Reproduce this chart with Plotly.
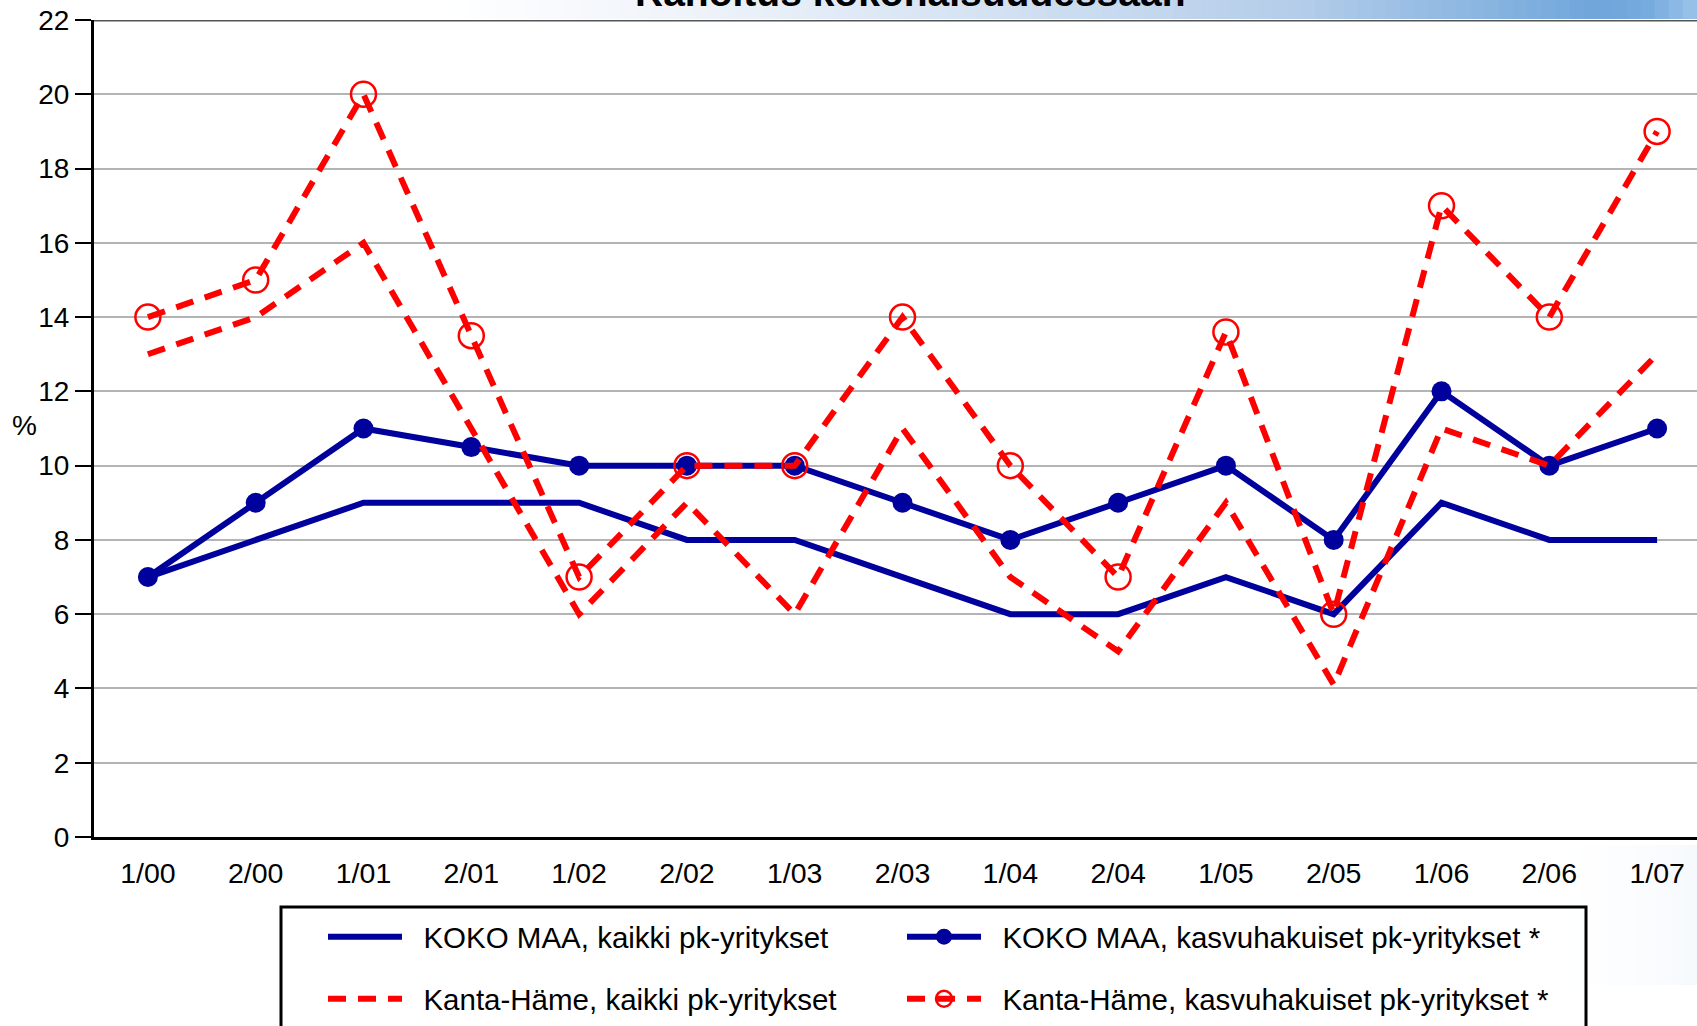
import plotly.graph_objects as go

# ---- data ----
periods = ["1/00", "2/00", "1/01", "2/01", "1/02", "2/02", "1/03", "2/03",
           "1/04", "2/04", "1/05", "2/05", "1/06", "2/06", "1/07"]
koko_kaikki = [7, 8, 9, 9, 9, 8, 8, 7, 6, 6, 7, 6, 9, 8, 8]
koko_kasvu = [7, 9, 11, 10.5, 10, 10, 10, 9, 8, 9, 10, 8, 12, 10, 11]
kh_kaikki = [13, 14, 16, 11, 6, 9, 6, 11, 7, 5, 9, 4.1, 11, 10, 13]
kh_kasvu = [14, 15, 20, 13.5, 7, 10, 10, 14, 10, 7, 13.6, 6, 17, 14, 19]
yticks = list(range(0, 23, 2))
names = ["KOKO MAA, kaikki pk-yritykset",
         "KOKO MAA, kasvuhakuiset pk-yritykset *",
         "Kanta-Häme, kaikki pk-yritykset",
         "Kanta-Häme, kasvuhakuiset pk-yritykset *"]
title_text = "Rahoitus kokonaisuudessaan"
y_label = "%"

# ---- layout geometry ----
W, H = 1697, 1026
ML, MR, MT, MB = 94, 0, 20, 189
PW, PH = W - ML - MR, H - MT - MB
FONT = "Liberation Sans, Arial, sans-serif"
BLUE = "#00009C"
RED = "#FF0000"
PAD = "\u00a0\u00a0"
LEG_FONT = 29.5


def px(x):
    return (x - ML) / PW


def py(y):
    return 1 - (y - MT) / PH


fig = go.Figure()
fig.add_trace(go.Scatter(x=periods, y=koko_kaikki, name=PAD + names[0], mode="lines",
                         line=dict(color=BLUE, width=6), legend="legend", showlegend=True))
fig.add_trace(go.Scatter(x=periods, y=koko_kasvu, name=PAD + names[1], mode="lines+markers",
                         line=dict(color=BLUE, width=6),
                         marker=dict(symbol="circle", size=20, color=BLUE),
                         legend="legend2", showlegend=True))
fig.add_trace(go.Scatter(x=periods, y=kh_kaikki, name=PAD + names[2], mode="lines",
                         line=dict(color=RED, width=6, dash="18px,12px"),
                         legend="legend3", showlegend=True))
fig.add_trace(go.Scatter(x=periods, y=kh_kasvu, name=PAD + names[3], mode="lines+markers",
                         line=dict(color=RED, width=6, dash="18px,12px"),
                         marker=dict(symbol="circle-open", size=25, color=RED,
                                     line=dict(width=2.5)),
                         legend="legend4", showlegend=True))

shapes = []
# gradient band at the top
stops = [(0, (255, 255, 255)), (450, (255, 255, 255)), (700, (238, 243, 250)),
         (1000, (211, 225, 242)), (1300, (180, 205, 233)), (1500, (134, 179, 224)),
         (1600, (111, 165, 219)), (1650, (118, 171, 222)), (1697, (156, 195, 234))]


def interp(x):
    for (x0, c0), (x1, c1) in zip(stops[:-1], stops[1:]):
        if x0 <= x <= x1:
            t = (x - x0) / (x1 - x0) if x1 > x0 else 0
            return tuple(int(round(a + (b - a) * t)) for a, b in zip(c0, c1))
    return stops[-1][1]


N = 120
for i in range(N):
    x0 = W * i / N
    x1 = W * (i + 1) / N + 1
    c = interp((x0 + x1) / 2)
    shapes.append(dict(type="rect", xref="paper", yref="paper",
                       x0=px(x0), x1=px(x1), y0=py(19), y1=py(-2),
                       fillcolor="rgb(%d,%d,%d)" % c, line=dict(width=0), layer="below"))
# soft haze lower right
for i in range(30):
    x0 = 1547 + i * 5
    a = 0.10 * (i / 29) ** 1.5
    shapes.append(dict(type="rect", xref="paper", yref="paper",
                       x0=px(x0), x1=px(x0 + 5), y0=py(985), y1=py(845),
                       fillcolor="rgba(170,200,235,%.3f)" % a, line=dict(width=0), layer="below"))
# dark top border line
shapes.append(dict(type="line", xref="paper", yref="y", x0=0, x1=1, y0=22, y1=22,
                   line=dict(color="#555555", width=3)))
# legend frame
shapes.append(dict(type="rect", xref="paper", yref="paper",
                   x0=px(281), x1=px(1586), y0=py(1040), y1=py(907),
                   line=dict(color="black", width=3), fillcolor="rgba(0,0,0,0)"))


def legend_at(xpix, ypix):
    return dict(x=px(xpix), y=py(ypix), xanchor="left", yanchor="middle",
                font=dict(size=LEG_FONT, family=FONT, color="black"),
                itemwidth=74, bgcolor="rgba(0,0,0,0)", borderwidth=0, visible=True)


fig.update_layout(
    width=W, height=H,
    showlegend=True,
    margin=dict(l=ML, r=MR, t=MT, b=MB, pad=0),
    paper_bgcolor="white", plot_bgcolor="white",
    font=dict(family=FONT, color="black", size=28),
    shapes=shapes,
    legend=legend_at(323, 937),
    legend2=legend_at(902, 937),
    legend3=legend_at(323, 999),
    legend4=legend_at(902, 999),
    annotations=[
        dict(text="<b>%s</b>" % title_text, xref="paper", yref="paper",
             x=px(910), y=py(-8), xanchor="center", yanchor="middle", showarrow=False,
             font=dict(size=39, family=FONT, color="black")),
        dict(text=y_label, xref="paper", yref="paper", x=px(24), y=py(426),
             xanchor="center", yanchor="middle", showarrow=False,
             font=dict(size=28, family=FONT, color="black")),
    ],
)
fig.update_xaxes(type="category", categoryorder="array", categoryarray=periods,
                 range=[-0.5, 14.37], showgrid=False, zeroline=False,
                 showline=True, linecolor="black", linewidth=3,
                 ticks="outside", ticklen=9, tickcolor="rgba(0,0,0,0)",
                 tickfont=dict(size=28.5, family=FONT, color="black"))
fig.update_yaxes(range=[0, 22], tickvals=yticks, showgrid=True, gridcolor="#b4b4b4",
                 gridwidth=1.5, zeroline=False, showline=True, linecolor="black",
                 linewidth=3, ticks="outside", ticklen=16, tickwidth=2, tickcolor="black",
                 tickfont=dict(size=28, family=FONT, color="black"))

fig.write_html("out.html",
               config={"displayModeBar": False},
               post_script="document.body.style.margin='0';"
                           "document.body.style.overflow='hidden';")
